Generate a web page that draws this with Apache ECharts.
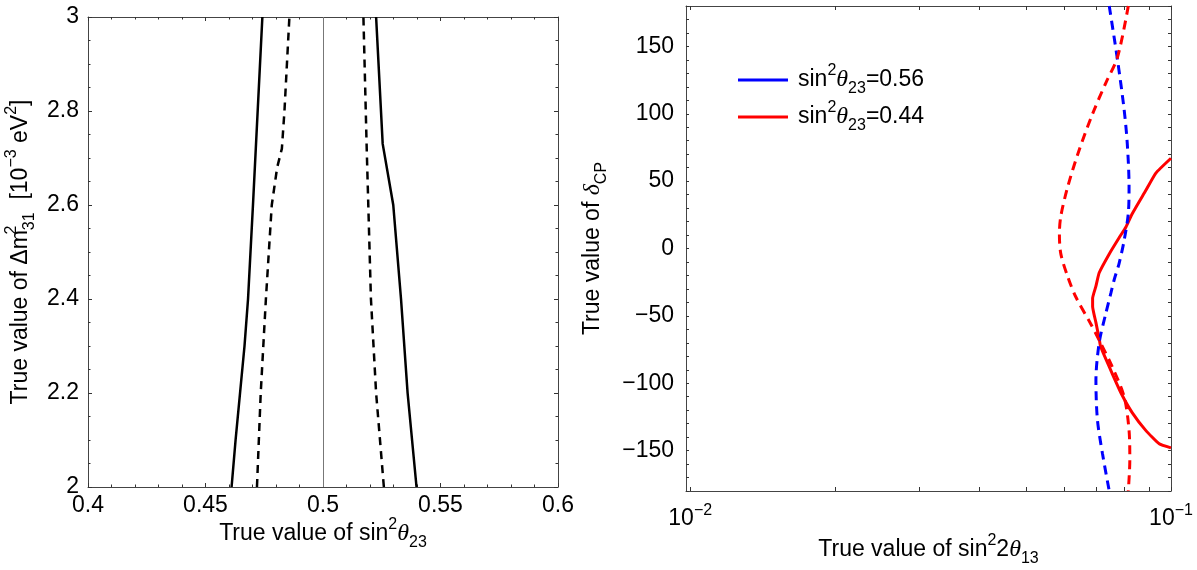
<!DOCTYPE html>
<html><head><meta charset="utf-8">
<script src="https://cdn.jsdelivr.net/npm/echarts@6/dist/echarts.min.js"></script>
<style>html,body{margin:0;padding:0;background:#fff}#c{width:1197px;height:570px}</style>
</head><body><div id="c"></div><script>
// ---------- Left panel data: sin^2(theta23) vs dm31^2 [1e-3 eV^2] ----------
const leftSolidA_dm = [2.0, 2.1, 2.2, 2.3, 2.4, 2.6, 2.8, 3.0];
const leftSolidA_s23 = [0.4611, 0.4628, 0.4647, 0.4666, 0.4681, 0.4702, 0.4722, 0.4742];
const leftDashA_dm = [2.0, 2.2, 2.4, 2.6, 2.68, 2.72, 2.8, 3.0];
const leftDashA_s23 = [0.4719, 0.4735, 0.4757, 0.4782, 0.4805, 0.4825, 0.4836, 0.4857];
const leftSolidB_dm = [2.0, 2.2, 2.4, 2.6, 2.73, 3.0];
const leftSolidB_s23 = [0.5398, 0.5360, 0.5332, 0.5299, 0.5254, 0.5226];
const leftDashB_dm = [2.0, 2.2, 2.4, 2.72, 3.0];
const leftDashB_s23 = [0.5259, 0.5226, 0.5204, 0.5186, 0.5172];
const maximalMixing = 0.5;

// ---------- Right panel data: sin^2(2theta13) vs delta_CP ----------
const blueDash_dcp = [180, 140, 103, 78, 46, 26, 6, -11, -23, -33, -48, -70, -98, -127, -152, -180];
const blueDash_s13 = [0.0744, 0.0774, 0.0799, 0.0811, 0.0818, 0.0815, 0.0799, 0.0780, 0.0762, 0.0750, 0.0732, 0.0709, 0.0698, 0.0703, 0.0720, 0.0744];
const redDash_dcp = [180, 142, 123, 100, 73, 46, 24, 11, -4, -21, -36, -56, -68, -88, -110, -135, -157, -180];
const redDash_s13 = [0.0815, 0.0774, 0.0732, 0.0687, 0.0644, 0.0610, 0.0590, 0.0586, 0.0590, 0.0610, 0.0634, 0.0681, 0.0709, 0.0755, 0.0799, 0.0818, 0.0821, 0.0815];
const redSolid_dcp = [67, 56, 43, 26, 16, 8, -4, -18, -28, -37, -43, -55, -67, -73, -93, -108, -122, -135, -145, -148];
const redSolid_s13 = [0.1, 0.0930, 0.0886, 0.0831, 0.0806, 0.0780, 0.0744, 0.0709, 0.0698, 0.0687, 0.0687, 0.0698, 0.0709, 0.0714, 0.0755, 0.0789, 0.0831, 0.0886, 0.0945, 0.1];
const blueSolid_dcp = [];   // sin^2 theta23 = 0.56 solid contour lies outside the frame
const blueSolid_s13 = [];

// ---------- Tick / label values ----------
const s13TickValues = [0.01, 0.02, 0.03, 0.04, 0.05, 0.06, 0.07, 0.08, 0.09, 0.1];
const s13LabelValues = [0.01, 0.1];
const s13Range = [0.0098, 0.1];
const dcpLabelValues = [-150, -100, -50, 0, 50, 100, 150];
const legendValues = ['0.56', '0.44'];

// ---------- helpers ----------
const FONT = '"Liberation Sans", Arial, Helvetica, sans-serif';
const SERIF = '"Liberation Serif", "DejaVu Serif", serif';
function richSet(fs) {
  const s = Math.round(fs * 0.68);
  return {
    sup: {fontSize: s, lineHeight: s + 2, verticalAlign: 'top', fontFamily: FONT, color: '#000'},
    supz: {fontSize: s, lineHeight: s + 2, verticalAlign: 'top', fontFamily: FONT, color: '#000', width: 0},
    sub: {fontSize: s, lineHeight: s + 2, verticalAlign: 'bottom', fontFamily: FONT, color: '#000'},
    it: {fontSize: fs + 1, fontFamily: SERIF, fontStyle: 'italic', color: '#000'},
    e: {fontSize: s, lineHeight: s + 2, verticalAlign: 'top', fontFamily: FONT, color: '#000'}
  };
}
const pairs = (xs, ys) => xs.map((x, i) => [x, ys[i]]);
const logPairs = (xs, ys) => xs.map((x, i) => [Math.log10(x), ys[i]]);
const minus = v => (v < 0 ? '\u2212' + Math.abs(v) : String(v));

const axisLineStyle = {show: true, onZero: false, lineStyle: {color: '#444', width: 1}};
const tickStyle = {show: true, inside: true, length: 4, lineStyle: {color: '#333', width: 1}};
const minorStyle = {length: 2.5, lineStyle: {color: '#333', width: 1}};
const labelBase = {color: '#000', fontSize: 23, fontFamily: FONT};
const nameStyle = {color: '#000', fontSize: 23, fontFamily: FONT, lineHeight: 34, rich: richSet(23)};

const chart = echarts.init(document.getElementById('c'), null, {renderer: 'canvas'});

const option = {
  animation: false,
  backgroundColor: '#fff',
  grid: [
    {left: 88, top: 17, width: 470, height: 470, containLabel: false, outerBoundsMode: 'none'},
    {left: 686, top: 6, width: 485, height: 485, containLabel: false, outerBoundsMode: 'none'}
  ],
  xAxis: [
    {gridIndex: 0, type: 'value', position: 'bottom', min: 0.4, max: 0.6, interval: 0.05,
     axisLine: axisLineStyle, axisTick: tickStyle,
     minorTick: Object.assign({show: true, splitNumber: 5}, minorStyle),
     splitLine: {show: false},
     axisLabel: Object.assign({margin: 7}, labelBase),
     name: 'True value of sin{sup|2}{it|θ}{sub|23}', nameLocation: 'middle', nameGap: 30,
     nameMoveOverlap: false, nameTextStyle: nameStyle},
    {gridIndex: 0, type: 'value', position: 'top', min: 0.4, max: 0.6, interval: 0.05,
     axisLine: axisLineStyle, axisTick: tickStyle,
     minorTick: Object.assign({show: true, splitNumber: 5}, minorStyle),
     splitLine: {show: false}, axisLabel: {show: false}},
    {gridIndex: 1, type: 'value', position: 'bottom',
     min: Math.log10(s13Range[0]), max: Math.log10(s13Range[1]),
     axisLine: axisLineStyle,
     axisTick: Object.assign({customValues: s13TickValues.map(Math.log10)}, tickStyle),
     splitLine: {show: false},
     axisLabel: Object.assign({margin: 12, lineHeight: 32,
       customValues: s13LabelValues.map(v => Math.round(Math.log10(v))),
       formatter: v => '10{e|\u2212' + Math.round(-v) + '}',
       rich: richSet(23)}, labelBase),
     name: 'True value of sin{sup|2}2{it|θ}{sub|13}', nameLocation: 'middle', nameGap: 42,
     nameMoveOverlap: false, nameTextStyle: nameStyle},
    {gridIndex: 1, type: 'value', position: 'top',
     min: Math.log10(s13Range[0]), max: Math.log10(s13Range[1]),
     axisLine: axisLineStyle,
     axisTick: Object.assign({customValues: s13TickValues.map(Math.log10)}, tickStyle),
     splitLine: {show: false}, axisLabel: {show: false}}
  ],
  yAxis: [
    {gridIndex: 0, type: 'value', position: 'left', min: 2, max: 3, interval: 0.2,
     axisLine: axisLineStyle, axisTick: tickStyle,
     minorTick: Object.assign({show: true, splitNumber: 4}, minorStyle),
     splitLine: {show: false},
     axisLabel: Object.assign({margin: 9}, labelBase),
     name: 'True value of Δm{supz|2}{sub|31}  [10{sup|\u22123} eV{sup|2}]', nameLocation: 'middle', nameGap: 50,
     nameMoveOverlap: false, nameTextStyle: nameStyle},
    {gridIndex: 0, type: 'value', position: 'right', min: 2, max: 3, interval: 0.2,
     axisLine: axisLineStyle, axisTick: tickStyle,
     minorTick: Object.assign({show: true, splitNumber: 4}, minorStyle),
     splitLine: {show: false}, axisLabel: {show: false}},
    {gridIndex: 1, type: 'value', position: 'left', min: -180, max: 180, interval: 10,
     axisLine: axisLineStyle, axisTick: Object.assign({}, tickStyle, {length: 3}),
     splitLine: {show: false},
     axisLabel: Object.assign({margin: 12, customValues: dcpLabelValues, formatter: minus}, labelBase),
     name: 'True value of {it|δ}{sub|CP}', nameLocation: 'middle', nameGap: 76,
     nameMoveOverlap: false, nameTextStyle: nameStyle},
    {gridIndex: 1, type: 'value', position: 'right', min: -180, max: 180, interval: 10,
     axisLine: axisLineStyle, axisTick: Object.assign({}, tickStyle, {length: 3}),
     splitLine: {show: false}, axisLabel: {show: false}}
  ],
  legend: {
    left: 733, top: 58, orient: 'vertical', itemWidth: 50, itemHeight: 3, itemGap: 3,
    icon: 'rect',
    data: ['s56', 's44'],
    formatter: n => 'sin{sup|2}{it|θ}{sub|23}=' + (n === 's56' ? legendValues[0] : legendValues[1]),
    textStyle: {color: '#000', fontSize: 23, fontFamily: FONT, lineHeight: 34, padding: [0, 0, 0, 5], rich: richSet(23)}
  },
  series: [
    {name: 'L1', type: 'line', xAxisIndex: 0, yAxisIndex: 0, symbol: 'none', silent: true,
     data: pairs(leftSolidA_s23, leftSolidA_dm), lineStyle: {color: '#000', width: 2.5},
     markLine: {silent: true, symbol: ['none', 'none'], label: {show: false},
       lineStyle: {color: '#777', width: 1, type: 'solid'}, data: [{xAxis: maximalMixing}]}},
    {name: 'L2', type: 'line', xAxisIndex: 0, yAxisIndex: 0, symbol: 'none', silent: true,
     data: pairs(leftDashA_s23, leftDashA_dm), lineStyle: {color: '#000', width: 2.5, type: [8, 6]}},
    {name: 'L3', type: 'line', xAxisIndex: 0, yAxisIndex: 0, symbol: 'none', silent: true,
     data: pairs(leftSolidB_s23, leftSolidB_dm), lineStyle: {color: '#000', width: 2.5}},
    {name: 'L4', type: 'line', xAxisIndex: 0, yAxisIndex: 0, symbol: 'none', silent: true,
     data: pairs(leftDashB_s23, leftDashB_dm), lineStyle: {color: '#000', width: 2.5, type: [8, 6]}},
    {name: 's56', type: 'line', xAxisIndex: 2, yAxisIndex: 2, symbol: 'none', silent: true,
     data: logPairs(blueSolid_s13, blueSolid_dcp), lineStyle: {color: '#0000ff', width: 3}, itemStyle: {color: '#0000ff'}},
    {name: 's44', type: 'line', xAxisIndex: 2, yAxisIndex: 2, symbol: 'none', silent: true, smooth: 0.15,
     data: logPairs(redSolid_s13, redSolid_dcp), lineStyle: {color: '#ff0000', width: 3}, itemStyle: {color: '#ff0000'}},
    {name: 'b56d', type: 'line', xAxisIndex: 2, yAxisIndex: 2, symbol: 'none', silent: true, smooth: 0.3,
     data: logPairs(blueDash_s13, blueDash_dcp), lineStyle: {color: '#0000ff', width: 3, type: [9, 6]}},
    {name: 'r44d', type: 'line', xAxisIndex: 2, yAxisIndex: 2, symbol: 'none', silent: true, smooth: 0.3,
     data: logPairs(redDash_s13, redDash_dcp), lineStyle: {color: '#ff0000', width: 3, type: [9, 6]}}
  ]
};
chart.setOption(option);
</script></body></html>
